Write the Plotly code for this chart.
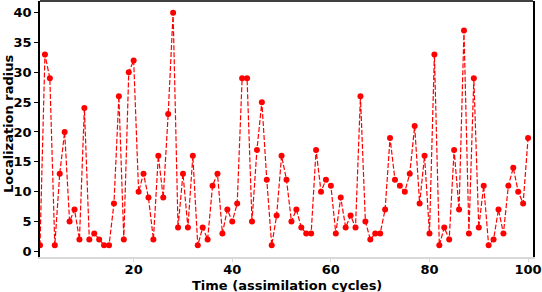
import plotly.graph_objects as go

cycles = list(range(1, 101))
radius = [1, 33, 29, 1, 13, 20, 5, 7, 2, 24,
          2, 3, 2, 1, 1, 8, 26, 2, 30, 32,
          10, 13, 9, 2, 16, 9, 23, 40, 4, 13,
          4, 16, 1, 4, 2, 11, 13, 3, 7, 5,
          8, 29, 29, 5, 17, 25, 12, 1, 6, 16,
          12, 5, 7, 4, 3, 3, 17, 10, 12, 11,
          3, 9, 4, 6, 4, 26, 5, 2, 3, 3,
          7, 19, 12, 11, 10, 13, 21, 8, 16, 3,
          33, 1, 4, 2, 17, 7, 37, 3, 29, 4,
          11, 1, 2, 7, 3, 11, 14, 10, 8, 19]
x_ticks = [20, 40, 60, 80, 100]
y_ticks = [0, 5, 10, 15, 20, 25, 30, 35, 40]
x_title = "Time (assimilation cycles)"
y_title = "Localization radius"

FONT = "DejaVu Sans"
tf = dict(family=FONT, size=13, weight="bold", color="black")

fig = go.Figure()
fig.add_trace(go.Scatter(
    x=cycles, y=radius, mode="lines+markers",
    line=dict(color="#ff0000", width=1.2, dash="5px,2px"),
    marker=dict(color="#ff0000", size=6, line=dict(width=0)),
    cliponaxis=True, showlegend=False, hoverinfo="skip",
))

fig.update_layout(
    width=542, height=292,
    margin=dict(l=40, r=9, t=1, b=35),
    paper_bgcolor="white", plot_bgcolor="white",
    font=dict(family=FONT, color="black"),
    xaxis=dict(
        range=[1, 101], tickvals=x_ticks, ticktext=[str(v) for v in x_ticks],
        showgrid=False, zeroline=False, automargin=False,
        showline=True, linecolor="#d9d9d9", linewidth=1.5,
        ticks="outside", ticklen=3, tickcolor="#d9d9d9", tickwidth=1,
        ticklabelstandoff=-3,
        tickfont=tf,
    ),
    yaxis=dict(
        range=[-0.95, 41.95], tickvals=y_ticks, ticktext=[str(v) for v in y_ticks],
        showgrid=False, zeroline=False, automargin=False,
        showline=True, linecolor="black", linewidth=1.5, mirror=True,
        ticks="outside", ticklen=4, tickcolor="black", tickwidth=1,
        tickfont=tf,
    ),
    shapes=[dict(type="line", xref="paper", yref="paper", x0=0, x1=1, y0=1, y1=1,
                 line=dict(color="black", width=1.5))],
    annotations=[
        dict(text=x_title, xref="paper", yref="paper", x=0.5, y=0,
             xanchor="center", yanchor="middle", yshift=-28, showarrow=False, font=tf),
        dict(text=y_title, xref="paper", yref="paper", x=0, y=0.5,
             xanchor="center", yanchor="middle", xshift=-32, yshift=5,
             textangle=-90, showarrow=False, font=tf),
    ],
)

fig.write_html("out.html", config={"displayModeBar": False},
               post_script="document.body.style.margin='0';document.body.style.overflow='hidden';")
